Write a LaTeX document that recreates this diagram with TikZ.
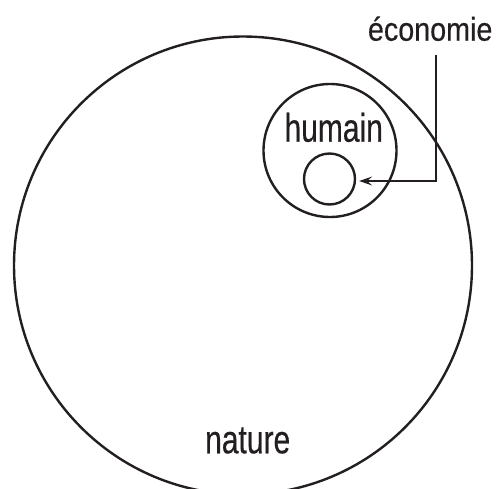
\documentclass[tikz,border=0pt]{standalone}
\usepackage{fontspec}
\setmainfont{Liberation Sans}
\newfontfamily\condA{Liberation Sans}[FakeStretch=0.75,FakeBold=0.4]
\newfontfamily\condB{Liberation Sans}[FakeStretch=0.87,FakeBold=0.4]
\usetikzlibrary{arrows.meta}
\definecolor{ink}{HTML}{231F20}
\tikzset{
  ring/.style={circle, draw=ink, line width=2.4pt, inner sep=0pt},
  lbl/.style={anchor=base, text=ink, inner sep=0pt},
  biglbl/.style={lbl, font=\condA\fontsize{40}{40}\selectfont},
  smalllbl/.style={lbl, font=\condB\fontsize{33}{33}\selectfont},
  pointer/.style={draw=ink, line width=1.2pt, -{Stealth[length=13pt,width=9pt,inset=5pt]}}
}
\begin{document}
\begin{tikzpicture}[x=1pt,y=-1pt]
  \useasboundingbox (0,0) rectangle (501,488);
  \clip (0,0) rectangle (501,488);
  \node[ring, minimum size=458pt] (nature) at (243,265.5) {};
  \node[ring, minimum size=133pt] (humain) at (330,150.5) {};
  \node[ring, minimum size=51pt] (econ) at (329.5,179) {};
  \node[biglbl] (tnature) at (247.7,453.3) {nature};
  \node[biglbl] (thumain) at (333.7,141.7) {humain};
  \node[smalllbl] (tecon) at (430.2,40.7) {économie};
  \coordinate (a) at (436,55);
  \draw[pointer] (a) |- ([shift={(3,2)}]econ.east);
\end{tikzpicture}
\end{document}
